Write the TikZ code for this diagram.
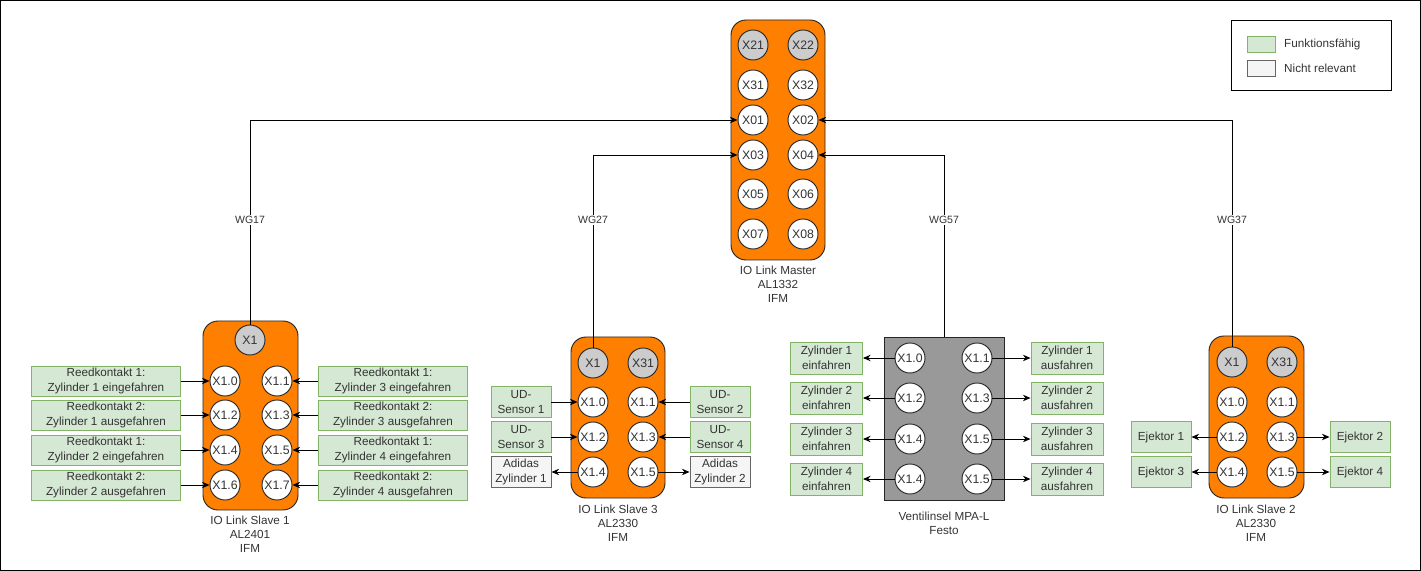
\documentclass[tikz,border=0pt]{standalone}
\usepackage{fontspec}
\setmainfont{Liberation Sans}
\usepackage{tikz}
\usetikzlibrary{positioning}
\usetikzlibrary{arrows.meta}
\usetikzlibrary{fit}

\definecolor{ioorange}{HTML}{FF8000}
\definecolor{okfill}{HTML}{D5E8D4}
\definecolor{okline}{HTML}{82B366}
\definecolor{nrfill}{HTML}{F5F5F5}
\definecolor{nrline}{HTML}{666666}
\definecolor{portgray}{HTML}{CCCCCC}
\definecolor{valvegray}{HTML}{999999}
\definecolor{txt}{HTML}{333333}

\tikzset{
	dev/.style={draw=black!85, fill=ioorange, rounded corners=0.45cm, inner sep=0pt, line width=0.8pt},
	port/.style={circle, draw=black!85, fill=white, minimum size=0.9cm, inner sep=0pt, line width=0.8pt,
			text=txt, font=\fontsize{10.5}{12}\selectfont},
	gport/.style={port, fill=portgray},
	ok/.style={draw=okline, fill=okfill, inner sep=0pt, align=center, line width=0.8pt,
			text=txt, font=\fontsize{10}{13}\selectfont},
	nr/.style={ok, draw=nrline, fill=nrfill},
	caption/.style={align=center, text=txt, font=\fontsize{10}{12}\selectfont},
	wg/.style={fill=white, text=txt, inner sep=1pt, font=\fontsize{9}{10}\selectfont},
	wire/.style={line width=0.8pt, -{Stealth[length=6.5pt,width=5.5pt]}}
}

\begin{document}
\begin{tikzpicture}[x=0.03cm, y=-0.03cm]
	\useasboundingbox (0,0) rectangle (1421,571);
	\draw[line width=0.8pt] (0.5,0.5) rectangle (1420.5,570.5);

	% IO Link Master
	\node[dev, fit={(731,20) (825,260)}] (master) {};
	\node[gport] (m21) at (753,45) {X21};
	\node[gport] (m22) at (803,45) {X22};
	\foreach \l/\r/\y in {31/32/85, 01/02/120, 03/04/155, 05/06/194, 07/08/234}{
		\node[port] (m\l) at (753,\y) {X\l};
		\node[port] (m\r) at (803,\y) {X\r};
	}
	\node[caption] (mcap) at (778,284) {IO Link Master\\AL1332\\IFM};

	% Slave 1
	\node[dev, fit={(203,321) (298,510)}] (slave1) {};
	\node[gport] (s1x1) at (250,340) {X1};
	\foreach \i/\j/\y/\k/\z/\zz/\w in {0/1/381/1/1/3/eingefahren, 2/3/415/2/1/3/ausgefahren,
			4/5/450/1/2/4/eingefahren, 6/7/485/2/2/4/ausgefahren}{
		\node[port] (s1p\i) at (225,\y) {X1.\i};
		\node[port] (s1p\j) at (277,\y) {X1.\j};
		\node[ok, minimum width=4.45cm, minimum height=0.9cm] (s1b\i) at (106,\y) {Reedkontakt \k:\\Zylinder \z\ \w};
		\node[ok, minimum width=4.45cm, minimum height=0.9cm] (s1b\j) at (393,\y) {Reedkontakt \k:\\Zylinder \zz\ \w};
		\draw[wire] (s1b\i) -- (s1p\i);
		\draw[wire] (s1b\j) -- (s1p\j);
	}
	\node[caption] (s1cap) at (250,534) {IO Link Slave 1\\AL2401\\IFM};

	% Slave 3
	\node[dev, fit={(571,337) (665,498)}] (slave3) {};
	\node[gport] (s3x1) at (593,363) {X1};
	\node[gport] (s3x31) at (643,363) {X31};
	\foreach \i/\j/\y in {0/1/402, 2/3/437, 4/5/472}{
		\node[port] (s3p\i) at (593,\y) {X1.\i};
		\node[port] (s3p\j) at (643,\y) {X1.\j};
	}
	\tikzset{s3box/.style={minimum width=1.8cm, minimum height=0.93cm}}
	\node[ok, s3box] (s3b0) at (521,402) {UD-\\Sensor 1};
	\node[ok, s3box] (s3b1) at (720,402) {UD-\\Sensor 2};
	\node[ok, s3box] (s3b2) at (521,437) {UD-\\Sensor 3};
	\node[ok, s3box] (s3b3) at (720,437) {UD-\\Sensor 4};
	\node[nr, s3box] (s3b4) at (521,472) {Adidas\\Zylinder 1};
	\node[nr, s3box] (s3b5) at (720,472) {Adidas\\Zylinder 2};
	\foreach \i in {0,1,2,3}{
		\draw[wire] (s3b\i) -- (s3p\i);
	}
	\draw[wire] (s3p4) -- (s3b4);
	\draw[wire] (s3p5) -- (s3b5);
	\node[caption] (s3cap) at (618,523) {IO Link Slave 3\\AL2330\\IFM};

	% Ventilinsel
	\node[draw=black!85, fill=valvegray, line width=0.8pt, inner sep=0pt, fit={(884,337) (1004,500)}] (valve) {};
	\foreach \n/\y/\l/\r in {1/358/1.0/1.1, 2/398/1.2/1.3, 3/439/1.4/1.5, 4/479/1.4/1.5}{
		\node[port] (vl\n) at (910,\y) {X\l};
		\node[port] (vr\n) at (977,\y) {X\r};
		\node[ok, minimum width=2.16cm, minimum height=0.96cm] (vbl\n) at (826.5,\y) {Zylinder \n\\einfahren};
		\node[ok, minimum width=2.16cm, minimum height=0.96cm] (vbr\n) at (1067,\y) {Zylinder \n\\ausfahren};
		\draw[wire] (vl\n) -- (vbl\n);
		\draw[wire] (vr\n) -- (vbr\n);
	}
	\node[caption] (vcap) at (944,523.5) {Ventilinsel MPA-L\\Festo};

	% Slave 2
	\node[dev, fit={(1209,336) (1304,498)}] (slave2) {};
	\node[gport] (s2x1) at (1232,362) {X1};
	\node[gport] (s2x31) at (1282,362) {X31};
	\foreach \i/\j/\y in {0/1/402, 2/3/437, 4/5/472}{
		\node[port] (s2p\i) at (1232,\y) {X1.\i};
		\node[port] (s2p\j) at (1282,\y) {X1.\j};
	}
	\foreach \i/\j/\y/\a/\b in {2/3/437/1/2, 4/5/472/3/4}{
		\node[ok, minimum width=1.8cm, minimum height=0.93cm] (s2b\i) at (1161,\y) {Ejektor \a};
		\node[ok, minimum width=1.8cm, minimum height=0.93cm] (s2b\j) at (1360,\y) {Ejektor \b};
		\draw[wire] (s2p\i) -- (s2b\i);
		\draw[wire] (s2p\j) -- (s2b\j);
	}
	\node[caption] (s2cap) at (1256,523) {IO Link Slave 2\\AL2330\\IFM};

	% WG cables to the master
	\draw[wire] (s1x1.north) |- node[wg, pos=0.256] {WG17} (m01.west);
	\draw[wire] (s3x1.north) |- node[wg, pos=0.332] {WG27} (m03.west);
	\draw[wire] (valve.north) |- node[wg, pos=0.321] {WG57} (m04.east);
	\draw[wire] (s2x1.north) |- node[wg, pos=0.28] {WG37} (m02.east);

	% legend
	\node[draw=black, line width=0.8pt, inner sep=0pt, fit={(1231,20) (1391,90)}] (legend) {};
	\node[ok, minimum width=0.84cm, minimum height=0.48cm] (lgok) at (1261,44) {};
	\node[nr, minimum width=0.84cm, minimum height=0.48cm] (lgnr) at (1261,68) {};
	\node[caption, anchor=west, inner sep=0pt] (lgoktxt) at (1284,44) {Funktionsfähig};
	\node[caption, anchor=west, inner sep=0pt] (lgnrtxt) at (1284,68) {Nicht relevant};
\end{tikzpicture}
\end{document}
